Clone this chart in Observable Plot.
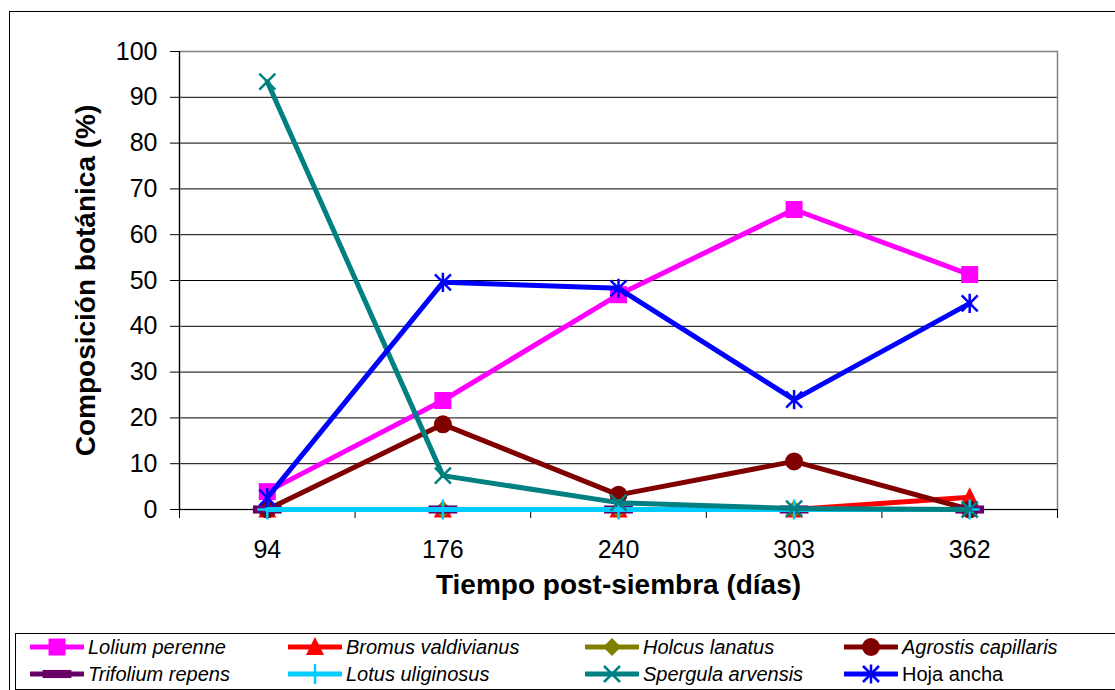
<!DOCTYPE html>
<html>
<head>
<meta charset="utf-8">
<script src="https://cdn.jsdelivr.net/npm/d3@7"></script>
<script src="https://cdn.jsdelivr.net/npm/@observablehq/plot@0.6"></script>
<style>
  html, body { margin: 0; padding: 0; background: #fff; overflow: hidden; }
  body { width: 1115px; height: 690px; position: relative; font-family: "Liberation Sans", Arial, sans-serif; }
  #chart { position: absolute; left: 0; top: 0; }
  #borde { position: absolute; left: 9px; top: 11px; width: 1200px; height: 800px; border: 1px solid #000; pointer-events: none; }
  #leyenda { position: absolute; left: 15px; top: 633px; width: 1200px; height: 55px; border: 1px solid #000; border-right: none; }
  .item { position: absolute; height: 24px; display: flex; align-items: center; font-size: 20px; color: #000; white-space: nowrap; }
  .item svg { flex: none; }
  .item span { margin-left: 4px; }
  .it { font-style: italic; }
</style>
</head>
<body>
<div id="borde"></div>
<div id="chart"></div>
<div id="leyenda"></div>
<script>
// Días post-siembra (categorías del eje X)
const dias = ["94", "176", "240", "303", "362"];

// Especies y su presentación
const especies = ["Lolium perenne", "Bromus valdivianus", "Holcus lanatus", "Agrostis capillaris",
                  "Trifolium repens", "Lotus uliginosus", "Spergula arvensis", "Hoja ancha"];
const cursiva = [true, true, true, true, true, true, true, false];
const colores = ["#FF00FF", "#FF0000", "#808000", "#800000", "#660066", "#00CCFF", "#008080", "#0000FF"];
const marcadores = ["square", "triangle", "diamond", "circle", "dash", "plus", "times", "star"];

// Composición botánica (%) por especie
const lolium    = [3.9, 23.8, 46.9, 65.5, 51.3];
const bromus    = [0, 0, 0, 0, 2.7];
const holcus    = [0, 0, 0, 0, 0];
const agrostis  = [0, 18.6, 3.2, 10.5, 0];
const trifolium = [0, 0, 0, 0, 0];
const lotus     = [0, 0, 0, 0, 0];
const spergula  = [93.4, 7.4, 1.5, 0.2, 0];
const hojaAncha = [2.6, 49.6, 48.3, 24.0, 45.0];
const series = [lolium, bromus, holcus, agrostis, trifolium, lotus, spergula, hojaAncha];

const yTicks = [0, 10, 20, 30, 40, 50, 60, 70, 80, 90, 100];
const tituloX = "Tiempo post-siembra (días)";
const tituloY = "Composición botánica (%)";

// Tabla larga: x es la posición de la categoría (centro de cada banda)
const tabla = series.flatMap((vals, s) =>
  vals.map((v, i) => ({especie: especies[s], x: i + 0.5, dia: dias[i], valor: v})));

// Marcadores estilo hoja de cálculo
const rad = size => Math.sqrt(size / Math.PI);
const simbolos = {
  square:   {draw(c, size) { const s = rad(size); c.rect(-s, -s, 2 * s, 2 * s); }},
  triangle: {draw(c, size) { const s = rad(size); c.moveTo(0, -s * 1.1); c.lineTo(s, s * 0.9); c.lineTo(-s, s * 0.9); c.closePath(); }},
  diamond:  {draw(c, size) { const s = rad(size); c.moveTo(0, -s); c.lineTo(s, 0); c.lineTo(0, s); c.lineTo(-s, 0); c.closePath(); }},
  circle:   {draw(c, size) { const s = rad(size); c.moveTo(s, 0); c.arc(0, 0, s, 0, 2 * Math.PI); }},
  dash:     {draw(c, size) { const s = rad(size); c.rect(-s * 1.6, -s * 0.45, s * 3.2, s * 0.9); }},
  plus:     {draw(c, size) { const s = rad(size); c.moveTo(-s, 0); c.lineTo(s, 0); c.moveTo(0, -s); c.lineTo(0, s); }},
  times:    {draw(c, size) { const s = rad(size); c.moveTo(-s, -s); c.lineTo(s, s); c.moveTo(-s, s); c.lineTo(s, -s); }},
  star:     {draw(c, size) { const s = rad(size); c.moveTo(-s, -s); c.lineTo(s, s); c.moveTo(-s, s); c.lineTo(s, -s); c.moveTo(0, -s * 1.2); c.lineTo(0, s * 1.2); }}
};
const deTrazo = new Set(["plus", "times", "star"]);
const radio = {square: 8.5, triangle: 9, diamond: 9, circle: 9, dash: 9, plus: 10, times: 8, star: 8};

function estiloMarcador(i) {
  const m = marcadores[i];
  return deTrazo.has(m)
    ? {fill: "none", stroke: colores[i], strokeWidth: 2.5}
    : {fill: colores[i], stroke: "none"};
}

// Líneas y marcadores, serie por serie
const marcasSeries = especies.flatMap((esp, i) => {
  const datos = tabla.filter(d => d.especie === esp);
  return [
    Plot.line(datos, {x: "x", y: "valor", stroke: colores[i], strokeWidth: 5, strokeLinejoin: "round"}),
    Plot.dot(datos, {x: "x", y: "valor", symbol: simbolos[marcadores[i]], r: radio[marcadores[i]], ...estiloMarcador(i)})
  ];
});

const chart = Plot.plot({
  width: 1115,
  height: 630,
  marginLeft: 179,
  marginRight: 58,
  marginTop: 51,
  marginBottom: 121,
  x: {domain: [0, dias.length]},
  y: {domain: [0, 100]},
  style: {fontFamily: "'Liberation Sans', Arial, sans-serif", color: "#000", background: "transparent", overflow: "visible"},
  marks: [
    Plot.gridY({ticks: yTicks.filter(t => t > 0 && t < 100), stroke: "#000", strokeOpacity: 1, strokeWidth: 1}),
    Plot.frame({stroke: "#808080", strokeWidth: 1.5}),
    Plot.ruleX([0], {stroke: "#000", strokeWidth: 1.2}),
    Plot.ruleY([0], {stroke: "#000", strokeWidth: 1.2}),
    Plot.axisY({ticks: yTicks, tickSize: 9, tickPadding: 13, fontSize: 25, label: null}),
    Plot.axisX({ticks: d3.range(dias.length + 1), tickFormat: () => "", tickSize: 9, label: null}),
    Plot.axisX({ticks: dias.map((d, i) => i + 0.5), tickFormat: v => dias[Math.floor(v)], tickSize: 0, tickPadding: 31, fontSize: 25, label: null}),
    Plot.text([tituloX], {text: d => d, frameAnchor: "bottom", textAnchor: "middle", lineAnchor: "middle", dy: 76, fontSize: 28, fontWeight: "bold"}),
    Plot.text([tituloY], {text: d => d, frameAnchor: "left", textAnchor: "middle", lineAnchor: "middle", dx: -93, rotate: -90, fontSize: 28, fontWeight: "bold"}),
    ...marcasSeries
  ]
});
document.getElementById("chart").appendChild(chart);

// Leyenda inferior (4 columnas x 2 filas)
const colX = [14, 272, 569, 828];
const filaY = [13, 40];
const leyenda = document.getElementById("leyenda");
especies.forEach((esp, i) => {
  const item = document.createElement("div");
  item.className = "item";
  item.style.left = colX[i % 4] + "px";
  item.style.top = (filaY[Math.floor(i / 4)] - 12) + "px";
  const m = marcadores[i];
  const r = radio[m];
  const p = d3.path();
  simbolos[m].draw(p, r * r * Math.PI);
  const est = estiloMarcador(i);
  item.innerHTML =
    `<svg width="54" height="24" viewBox="0 0 54 24">` +
    `<line x1="1" x2="53" y1="12" y2="12" stroke="${colores[i]}" stroke-width="5" stroke-linecap="round"/>` +
    `<path transform="translate(27,12)" d="${p.toString()}" fill="${est.fill}" stroke="${est.stroke}" stroke-width="${est.strokeWidth || 0}"/>` +
    `</svg><span class="${cursiva[i] ? "it" : ""}">${esp}</span>`;
  leyenda.appendChild(item);
});
</script>
</body>
</html>
